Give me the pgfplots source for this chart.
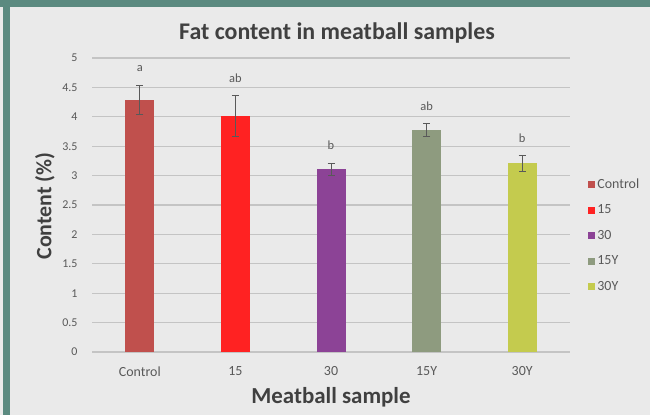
\documentclass[border=0pt]{standalone}
\usepackage{pgfplots}
\pgfplotsset{compat=1.18}
\usetikzlibrary{backgrounds}
\usepackage{fontspec}
\setmainfont{Carlito}

\definecolor{framec}{HTML}{5B8A80}
\definecolor{bgc}{HTML}{EAEAEA}
\definecolor{txt}{HTML}{595959}
\definecolor{titlec}{HTML}{404040}
\definecolor{gridc}{HTML}{C4C4C4}
\definecolor{cControl}{HTML}{C0504D}
\definecolor{c15}{HTML}{FF2222}
\definecolor{c30}{HTML}{8C4396}
\definecolor{c15Y}{HTML}{8E9B7F}
\definecolor{c30Y}{HTML}{C4CB4E}

\pgfplotsset{
  fatbar/.style={ybar, bar width=29bp, bar shift=0pt, fill=#1, draw=none,
    error bars/.cd, y dir=both, y explicit,
    error bar style={txt, line width=0.8bp},
    error mark options={txt, rotate=90, mark size=3.5bp, line width=0.8bp}},
}

\begin{document}
\begin{tikzpicture}
\begin{axis}[
  name=ax,
  scale only axis, width=478bp, height=294bp,
  xmin=-0.5, xmax=4.5, ymin=0, ymax=5,
  xtick={0,1,2,3,4}, xticklabels={Control,15,30,15Y,30Y},
  ytick={0,0.5,1,1.5,2,2.5,3,3.5,4,4.5,5},
  axis line style={draw=none},
  major tick length=0pt,
  ymajorgrids, grid style={gridc, line width=1.1bp},
  /pgf/number format/assume math mode=true,
  yticklabel style={font=\fontsize{12}{14}\selectfont, text=txt, xshift=-11bp},
  xticklabel style={font=\fontsize{14}{16}\selectfont, text=txt, yshift=-11bp},
  legend style={at={(1.037,0.597)}, anchor=north west, draw=none, fill=none,
    font=\fontsize{14}{16}\selectfont, text=txt,
    row sep=11bp, inner sep=0pt},
  legend cell align=left,
  legend image code/.code={\fill[#1] (0bp,-3.5bp) rectangle (7.5bp,3.5bp);},
]
\addplot[fatbar=cControl] coordinates {(0,4.29) +- (0,0.25)};
\addlegendentry{Control}
\addplot[fatbar=c15] coordinates {(1,4.01) +- (0,0.35)};
\addlegendentry{15}
\addplot[fatbar=c30] coordinates {(2,3.11) +- (0,0.10)};
\addlegendentry{30}
\addplot[fatbar=c15Y] coordinates {(3,3.77) +- (0,0.11)};
\addlegendentry{15Y}
\addplot[fatbar=c30Y] coordinates {(4,3.21) +- (0,0.13)};
\addlegendentry{30Y}

% significance letters, placed at the top of each error bar
\addplot[draw=none, mark=none, forget plot, nodes near coords,
  point meta=explicit symbolic,
  every node near coord/.style={font=\fontsize{12.5}{14}\selectfont, text=txt,
    anchor=south, yshift=10bp}]
  table[meta=lab] {
x y lab
0 4.54 a
1 4.36 ab
2 3.21 b
3 3.88 ab
4 3.34 b
};
\end{axis}

% page frame and titles, in pixels from the axis corner
\begin{scope}[shift={(ax.south west)}, x=1bp, y=1bp]
\begin{pgfonlayer}{background}
\fill[bgc] (-92,-63) rectangle (558,352);
\fill[framec] (-92,345) rectangle (558,352);
\fill[framec] (-89,-63) rectangle (-82,345);
\end{pgfonlayer}
\node[font=\bfseries\fontsize{24}{28}\selectfont, text=titlec] at (245,319) {Fat content in meatball samples};
\node[font=\bfseries\fontsize{22}{26}\selectfont, text=titlec, rotate=90] at (-47,146) {Content (\%)};
\node[font=\bfseries\fontsize{23}{26}\selectfont, text=titlec] at (239,-45) {Meatball sample};
\end{scope}
\end{tikzpicture}
\end{document}
